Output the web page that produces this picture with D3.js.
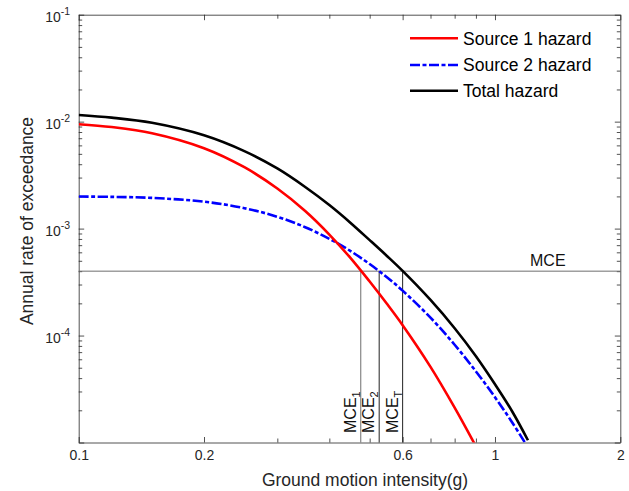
<!DOCTYPE html>
<html>
<head>
<meta charset="utf-8">
<script src="https://cdn.jsdelivr.net/npm/d3@7"></script>
<style>
  html, body { margin: 0; padding: 0; background: #fff; }
  svg { display: block; font-family: "Liberation Sans", Arial, Helvetica, sans-serif; }
</style>
</head>
<body>
<svg id="chart" width="629" height="491"></svg>
<script>
// ---------------- data ----------------
const intensity = [0.1, 0.12, 0.15, 0.2, 0.25, 0.3, 0.35, 0.4, 0.45, 0.5, 0.55, 0.6, 0.7, 0.8, 0.9, 1.0, 1.1, 1.2];
const source1 = [9.46e-3, 8.9e-3, 7.8e-3, 5.65e-3, 3.75e-3, 2.37e-3, 1.46e-3, 8.8e-4, 5.3e-4, 3.2e-4, 1.98e-4, 1.25e-4, 5.1e-5, 2.12e-5, 9.2e-6, null, null, null];
const source2 = [1.994e-3, 1.981e-3, 1.937e-3, 1.785e-3, 1.553e-3, 1.29e-3, 1.031e-3, 8.03e-4, 6.16e-4, 4.66e-4, 3.51e-4, 2.63e-4, 1.47e-4, 8.2e-5, 4.62e-5, 2.65e-5, 1.54e-5, 9.0e-6];
const total   = [1.155e-2, 1.09e-2, 9.75e-3, 7.45e-3, 5.3e-3, 3.65e-3, 2.45e-3, 1.66e-3, 1.13e-3, 7.8e-4, 5.55e-4, 4.02e-4, 2.15e-4, 1.17e-4, 6.4e-5, 3.5e-5, 1.95e-5, 1.05e-5];
const seriesNames = ["Source 1 hazard", "Source 2 hazard", "Total hazard"];
const xTickLabels = ["0.1", "0.2", "0.6", "1", "2"];
const yTickLabels = ["10-4", "10-3", "10-2", "10-1"];
const mceRate = 4e-4;
const mceIntensity = [0.476, 0.527, 0.6];
const mceSubs = ["1", "2", "T"];

// ---------------- layout ----------------
const L = 78.7, R = 620.3, T = 14.7, B = 442.5;
const axisColor = "#262626";
const styles = [
  { color: "#ff0000", dash: null },
  { color: "#0000ff", dash: "10,2.5,4,2.5" },
  { color: "#000000", dash: null }
];

const svg = d3.select("#chart");
const x = d3.scaleLog().domain([0.1, 2]).range([L, R]);
const y = d3.scaleLog().domain([1e-5, 1e-1]).range([B, T]);

svg.append("defs").append("clipPath").attr("id", "clip")
  .append("rect").attr("x", L).attr("y", T).attr("width", R - L).attr("height", B - T);

// ---------------- axes ----------------
const xTicksAll = x.ticks();
const yTicksAll = y.ticks();
const isXLabeled = d => xTickLabels.includes(String(+d.toFixed(2)));
const isYMajor = d => Math.abs(Math.log10(d) - Math.round(Math.log10(d))) < 1e-6;

function styleAxis(g) {
  g.selectAll("path.domain").attr("stroke", axisColor).attr("stroke-width", 0.8);
  g.selectAll("line").attr("stroke", axisColor).attr("stroke-width", 0.8);
  g.selectAll("text").attr("fill", "#262626");
}

// bottom
const gB = svg.append("g").attr("transform", `translate(0,${B})`)
  .call(d3.axisBottom(x).tickValues(xTicksAll).tickSize(-4).tickSizeOuter(0).tickPadding(7.5)
    .tickFormat(d => isXLabeled(d) ? String(+d.toFixed(2)) : ""));
gB.selectAll(".tick line").attr("y2", d => isXLabeled(d) ? -5.5 : -4);
gB.selectAll("text").attr("font-size", 14).attr("font-family", "Liberation Sans, Arial, sans-serif");
styleAxis(gB);

// top
const gT = svg.append("g").attr("transform", `translate(0,${T})`)
  .call(d3.axisTop(x).tickValues(xTicksAll).tickSize(-4).tickSizeOuter(0).tickFormat(""));
gT.selectAll(".tick line").attr("y2", d => isXLabeled(d) ? 5.5 : 4);
styleAxis(gT);

// left
const gL = svg.append("g").attr("transform", `translate(${L},0)`)
  .call(d3.axisLeft(y).tickValues(yTicksAll).tickSize(-3.5).tickSizeOuter(0).tickPadding(8.5)
    .tickFormat(() => ""));
gL.selectAll(".tick line").attr("x2", d => isYMajor(d) ? 5.5 : 3.5);
gL.selectAll(".tick text").each(function(d) {
  const t = d3.select(this);
  t.text(null);
  if (!isYMajor(d)) return;
  const lab = yTickLabels.find(s => s === "10" + Math.round(Math.log10(d)));
  if (!lab) return;
  t.attr("dy", "0.52em").attr("font-size", 14).attr("font-family", "Liberation Sans, Arial, sans-serif");
  t.append("tspan").text(lab.slice(0, 2));
  t.append("tspan").attr("dy", -7).attr("font-size", 10.5).text(lab.slice(2));
});
styleAxis(gL);

// right
const gR = svg.append("g").attr("transform", `translate(${R},0)`)
  .call(d3.axisRight(y).tickValues(yTicksAll).tickSize(-3.5).tickSizeOuter(0).tickFormat(""));
gR.selectAll(".tick line").attr("x2", d => isYMajor(d) ? -5.5 : -3.5);
styleAxis(gR);

// ---------------- MCE lines ----------------
svg.append("line")
  .attr("x1", L).attr("x2", R).attr("y1", y(mceRate)).attr("y2", y(mceRate))
  .attr("stroke", "#6e6e6e").attr("stroke-width", 1);
svg.append("text").attr("x", 530).attr("y", y(mceRate) - 5)
  .attr("font-size", 16).attr("fill", "#111").text("MCE");

mceIntensity.forEach((v, i) => {
  svg.append("line")
    .attr("x1", x(v)).attr("x2", x(v)).attr("y1", y(mceRate)).attr("y2", B)
    .attr("stroke", i === 0 ? "#6e6e6e" : "#222").attr("stroke-width", 1);
  const t = svg.append("text")
    .attr("transform", `translate(${x(v) - 5},433) rotate(-90)`)
    .attr("font-size", 16).attr("fill", "#111");
  t.append("tspan").text("MCE");
  t.append("tspan").attr("dy", 4).attr("font-size", 11).text(mceSubs[i]);
});

// ---------------- curves ----------------
const series = [source1, source2, total];
const line = d3.line()
  .defined(d => d[1] != null)
  .x(d => x(d[0])).y(d => y(d[1]))
  .curve(d3.curveCatmullRom.alpha(0.5));

const plot = svg.append("g").attr("clip-path", "url(#clip)");
[2, 1, 0].forEach(i => {
  const pts = intensity.map((v, j) => [v, series[i][j]]);
  plot.append("path")
    .attr("d", line(pts))
    .attr("fill", "none")
    .attr("stroke", styles[i].color)
    .attr("stroke-width", 2.6)
    .attr("stroke-dasharray", styles[i].dash);
});

// ---------------- legend ----------------
const legendY = [38.3, 65, 90.7];
seriesNames.forEach((name, i) => {
  svg.append("line")
    .attr("x1", 410).attr("x2", 458).attr("y1", legendY[i]).attr("y2", legendY[i])
    .attr("stroke", styles[i].color).attr("stroke-width", 2.6)
    .attr("stroke-dasharray", styles[i].dash);
  svg.append("text").attr("x", 463).attr("y", legendY[i] + 6.2)
    .attr("font-size", 17.5).attr("fill", "#000").text(name);
});

// ---------------- axis titles ----------------
svg.append("text").attr("x", 365).attr("y", 486)
  .attr("text-anchor", "middle").attr("font-size", 17.5).attr("fill", "#262626")
  .text("Ground motion intensity(g)");
svg.append("text")
  .attr("transform", "translate(32.5,221) rotate(-90)")
  .attr("text-anchor", "middle").attr("font-size", 17.5).attr("fill", "#262626")
  .text("Annual rate of exceedance");
</script>
</body>
</html>
